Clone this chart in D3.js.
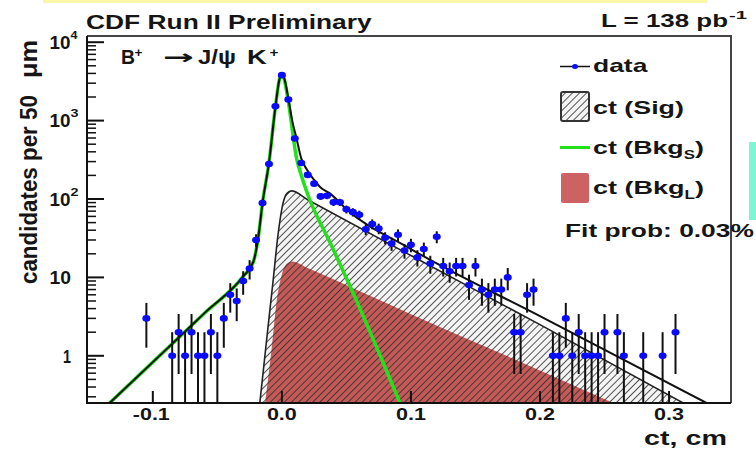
<!DOCTYPE html>
<html>
<head>
<meta charset="utf-8">
<script src="https://cdn.jsdelivr.net/npm/d3@7"></script>
<style>
body { margin: 0; background: #fff; }
text { font-family: "Liberation Sans", Arial, sans-serif; font-weight: bold; fill: #151515; }
</style>
</head>
<body>
<svg width="756" height="449"></svg>
<script>
// data: candidates per 50 um bin
var binCt = [-0.105, -0.085, -0.08, -0.075, -0.07, -0.065, -0.06, -0.055, -0.05, -0.045, -0.04, -0.035, -0.03, -0.025, -0.02,
    -0.015, -0.01, -0.005, 0.0, 0.005, 0.01, 0.015, 0.02, 0.025, 0.03, 0.035, 0.04, 0.045, 0.05, 0.055, 0.06,
    0.065, 0.07, 0.075, 0.08, 0.085, 0.09, 0.095, 0.1, 0.105, 0.11, 0.115, 0.12, 0.125, 0.13, 0.135, 0.14,
    0.145, 0.15, 0.155, 0.16, 0.165, 0.17, 0.175, 0.18, 0.185, 0.19, 0.195, 0.21, 0.215, 0.22, 0.225, 0.23,
    0.235, 0.24, 0.245, 0.25, 0.26, 0.265, 0.28, 0.295, 0.305];
var binN = [3, 1, 2, 1, 2, 1, 1, 2, 1, 3, 6, 5, 9, 13, 30,
    89, 280, 1520, 3800, 1860, 590, 288, 203, 157, 108, 110, 91, 91, 74, 68, 63,
    41, 48, 42, 32, 27, 35, 22, 26, 18, 23, 15, 33, 14, 12, 14, 14,
    8, 14, 7, 6, 7, 7, 10, 2, 2, 6, 7, 1, 1, 3, 1, 2,
    1, 1, 1, 2, 2, 1, 1, 1, 2];

// fit components, points
var sigCt = [-0.0171, -0.012, -0.0067, -0.003, 0.001, 0.004, 0.0075, 0.02, 0.1, 0.2, 0.311];
var sigN = [0.25, 1.5, 9.4, 35, 90, 118, 127, 98, 19, 2.5, 0.25];
var bkgLCt = [-0.013, -0.008, -0.004, 0.0, 0.004, 0.008, 0.02, 0.1, 0.2, 0.2568];
var bkgLN = [0.25, 1.2, 5, 11, 15, 16, 13.2, 3.4, 0.65, 0.25];
var bkgSCt = [-0.1335, -0.1, -0.06, -0.03, -0.022, -0.018, -0.015, -0.01, -0.005, -0.002, 0.0, 0.002, 0.005, 0.0114, 0.0155, 0.0204, 0.0372, 0.054, 0.0915];
var bkgSN = [0.25, 0.83, 3.5, 10.3, 16, 35, 89, 290, 1500, 3300, 3950, 3300, 1750, 330, 190, 110, 28, 7, 0.25];
var totCt = [-0.1335, -0.1, -0.06, -0.03, -0.022, -0.018, -0.015, -0.01, -0.005, -0.002, 0.0, 0.002, 0.005, 0.008, 0.0114, 0.015, 0.019, 0.025, 0.03, 0.0372, 0.05, 0.1, 0.2, 0.329];
var totN = [0.25, 0.83, 3.5, 10.3, 16, 35, 89, 290, 1500, 3300, 3950, 3400, 1920, 1000, 588, 330, 243, 175, 140, 118, 74, 23, 3.2, 0.25];

var xTicks = [-0.1, 0.0, 0.1, 0.2, 0.3];
var xTickLabels = ["-0.1", "0.0", "0.1", "0.2", "0.3"];
var yTicks = [1, 10, 100, 1000, 10000];
var yTickBase = ["1", "10", "10", "10", "10"];
var yTickExp = ["", "", "2", "3", "4"];

var svg = d3.select("svg");
var pL = 87, pR = 731, pT = 36, pB = 403;

var x = d3.scaleLinear().domain([-0.151, 0.348]).range([pL, pR]);
var y = d3.scaleLog().domain([0.25, 12000]).range([pB, pT]);

// decorations from the original slide
svg.append("rect").attr("x", 43).attr("y", 0).attr("width", 664).attr("height", 3).attr("fill", "#fbf7a6");
svg.append("rect").attr("x", 749).attr("y", 142).attr("width", 7).attr("height", 78).attr("fill", "#7ff5d6");

var defs = svg.append("defs");
defs.append("clipPath").attr("id", "plot")
    .append("rect").attr("x", pL).attr("y", pT).attr("width", pR - pL).attr("height", pB - pT);
var pat = defs.append("pattern").attr("id", "hatch").attr("patternUnits", "userSpaceOnUse")
    .attr("width", 5).attr("height", 5).attr("patternTransform", "rotate(45)");
pat.append("line").attr("x1", 0).attr("y1", 0).attr("x2", 0).attr("y2", 5)
    .attr("stroke", "#2a2a2a").attr("stroke-width", 1.6);

function pts(cts, ns) {
    return cts.map(function (c, i) { return [c, ns[i]]; });
}

var line = d3.line()
    .x(function (d) { return x(d[0]); })
    .y(function (d) { return y(Math.max(d[1], 0.25)); })
    .curve(d3.curveMonotoneX);
var area = d3.area()
    .x(function (d) { return x(d[0]); })
    .y0(pB)
    .y1(function (d) { return y(Math.max(d[1], 0.25)); })
    .curve(d3.curveMonotoneX);

var plot = svg.append("g").attr("clip-path", "url(#plot)");

var sig = pts(sigCt, sigN), bkgL = pts(bkgLCt, bkgLN), bkgS = pts(bkgSCt, bkgSN), tot = pts(totCt, totN);

plot.append("path").attr("d", area(sig)).attr("fill", "#f4f4f4");
plot.append("path").attr("d", area(bkgL)).attr("fill", "#c45a58");
plot.append("path").attr("d", area(sig)).attr("fill", "url(#hatch)");
plot.append("path").attr("d", line(sig)).attr("fill", "none").attr("stroke", "#222").attr("stroke-width", 1.6);
plot.append("path").attr("d", line(bkgS)).attr("fill", "none").attr("stroke", "#22e01a").attr("stroke-width", 3.5);
plot.append("path").attr("d", line(tot)).attr("fill", "none").attr("stroke", "#111").attr("stroke-width", 2);

// data points with sqrt(N) errors
var data = pts(binCt, binN);
var pg = plot.append("g");
pg.selectAll("line.ey").data(data).enter().append("line")
    .attr("x1", function (d) { return x(d[0]); })
    .attr("x2", function (d) { return x(d[0]); })
    .attr("y1", function (d) { return y(d[1] + Math.sqrt(d[1])); })
    .attr("y2", function (d) { var lo = d[1] - Math.sqrt(d[1]); return lo > 0.25 ? y(lo) : pB; })
    .attr("stroke", "#111").attr("stroke-width", 2);
pg.selectAll("line.ex").data(data).enter().append("line")
    .attr("x1", function (d) { return x(d[0] - 0.0025); })
    .attr("x2", function (d) { return x(d[0] + 0.0025); })
    .attr("y1", function (d) { return y(d[1]); })
    .attr("y2", function (d) { return y(d[1]); })
    .attr("stroke", "#111").attr("stroke-width", 1.5);
pg.selectAll("ellipse").data(data).enter().append("ellipse")
    .attr("cx", function (d) { return x(d[0]); })
    .attr("cy", function (d) { return y(d[1]); })
    .attr("rx", 4).attr("ry", 3.3)
    .attr("fill", "#0a0aff");

// frame
svg.append("path").attr("d", "M" + pL + "," + pT + "H" + pR + "V" + pB)
    .attr("fill", "none").attr("stroke", "#444").attr("stroke-width", 2);
svg.append("path").attr("d", "M" + pL + "," + pT + "V" + pB + "H" + pR)
    .attr("fill", "none").attr("stroke", "#111").attr("stroke-width", 2);

// y ticks (log)
var minor = [];
[0.1, 1, 10, 100, 1000].forEach(function (dec) {
    for (var k = 2; k <= 9; k++) { var v = dec * k; if (v >= 0.25 && v <= 12000) minor.push(v); }
});
svg.selectAll("line.ymin").data(minor).enter().append("line")
    .attr("x1", pL).attr("x2", pL + 9)
    .attr("y1", function (d) { return y(d); }).attr("y2", function (d) { return y(d); })
    .attr("stroke", "#111").attr("stroke-width", 1.5);
svg.selectAll("line.ymaj").data(yTicks).enter().append("line")
    .attr("x1", pL).attr("x2", pL + 17)
    .attr("y1", function (d) { return y(d); }).attr("y2", function (d) { return y(d); })
    .attr("stroke", "#111").attr("stroke-width", 2);

// x ticks
svg.selectAll("line.xt").data(xTicks).enter().append("line")
    .attr("x1", function (d) { return x(d); }).attr("x2", function (d) { return x(d); })
    .attr("y1", pB).attr("y2", pB - 12)
    .attr("stroke", "#111").attr("stroke-width", 2);

// text squeezed/stretched to span x0..x1 like the scanned slide
function fit(str, x0, x1, base, fs) {
    var t = svg.append("text").attr("font-size", fs);
    if (str) t.text(str);
    t.fit = function () {
        var b = t.node().getBBox();
        var s = (x1 - x0) / b.width;
        t.attr("transform", "translate(" + (x0 - b.x * s) + "," + base + ") scale(" + s + ",1)");
        return t;
    };
    return t;
}

xTicks.forEach(function (v, i) {
    var cx = x(v);
    if (xTickLabels[i].charAt(0) == "-") fit(xTickLabels[i], cx - 20, cx + 17, 420, 17).fit();
    else fit(xTickLabels[i], cx - 15, cx + 15, 420, 17).fit();
});
yTicks.forEach(function (v, i) {
    var yy = y(v);
    if (yTickExp[i]) {
        fit(yTickBase[i], 49.5, 70.5, yy + 6.5, 18).fit();
        fit(yTickExp[i], 70.5, 78.5, yy - 3.5, 11).fit();
    } else if (yTickBase[i] == "10") {
        fit(yTickBase[i], 49.5, 71, yy + 7, 18).fit();
    } else {
        fit(yTickBase[i], 63, 71, yy + 7, 18).fit();
    }
});

fit("CDF Run II Preliminary", 86, 372, 29, 19.5).fit();
fit("L = 138 pb", 601, 728, 27, 19).fit();
fit("-1", 729, 747, 19, 11).fit();

// B+ -> J/psi K+
fit("B", 121, 135, 63.5, 20).fit();
fit("+", 134.5, 142.5, 57, 12).fit();
fit("\u2192", 163, 194, 64, 20).style("font-family", "DejaVu Sans").fit();
fit("J/\u03c8", 198, 236, 63.5, 20).fit();
fit("K", 247, 267.5, 63.5, 20).fit();
fit("+", 269.5, 278.5, 57, 12).fit();

fit("ct, cm", 644, 727, 445, 21).fit();

// y axis title (rotated)
function vfit(str, y0, y1, bx, fs, sy) {
    var t = svg.append("text").attr("font-size", fs).text(str);
    var b = t.node().getBBox();
    var s = (y0 - y1) / b.width;
    t.attr("transform", "translate(" + bx + "," + y0 + ") rotate(-90) scale(" + s + "," + sy + ")");
    return t;
}
vfit("candidates per 50", 284, 95, 37, 22, 1.08);
vfit("\u03bcm", 78, 40, 37, 22, 1.08);

// legend
svg.append("line").attr("x1", 560).attr("x2", 590).attr("y1", 66.5).attr("y2", 66.5).attr("stroke", "#111").attr("stroke-width", 1.5);
svg.append("ellipse").attr("cx", 575).attr("cy", 66.5).attr("rx", 3).attr("ry", 2.5).attr("fill", "#0a0aff");
fit("data", 593, 648, 72, 19).fit();

svg.append("rect").attr("x", 561).attr("y", 92).attr("width", 28).attr("height", 29).attr("rx", 2)
    .attr("fill", "#f4f4f4");
svg.append("rect").attr("x", 561).attr("y", 92).attr("width", 28).attr("height", 29).attr("rx", 2)
    .attr("fill", "url(#hatch)").attr("stroke", "#333").attr("stroke-width", 2);
fit("ct (Sig)", 593, 684, 113.5, 19).fit();

svg.append("line").attr("x1", 560).attr("x2", 590).attr("y1", 147.5).attr("y2", 147.5).attr("stroke", "#22e01a").attr("stroke-width", 3);
var ls = fit("ct (Bkg", 593, 704, 153.5, 19);
ls.append("tspan").attr("dy", 5).attr("font-size", 12).text("S");
ls.append("tspan").attr("dy", -5).text(")");
ls.fit();

svg.append("rect").attr("x", 561).attr("y", 173).attr("width", 28).attr("height", 30).attr("rx", 2)
    .attr("fill", "#cd6262");
var ll = fit("ct (Bkg", 593, 704, 193.5, 19);
ll.append("tspan").attr("dy", 5).attr("font-size", 12).text("L");
ll.append("tspan").attr("dy", -5).text(")");
ll.fit();

fit("Fit prob: 0.03%", 565, 754, 237, 19).fit();
</script>
</body>
</html>
